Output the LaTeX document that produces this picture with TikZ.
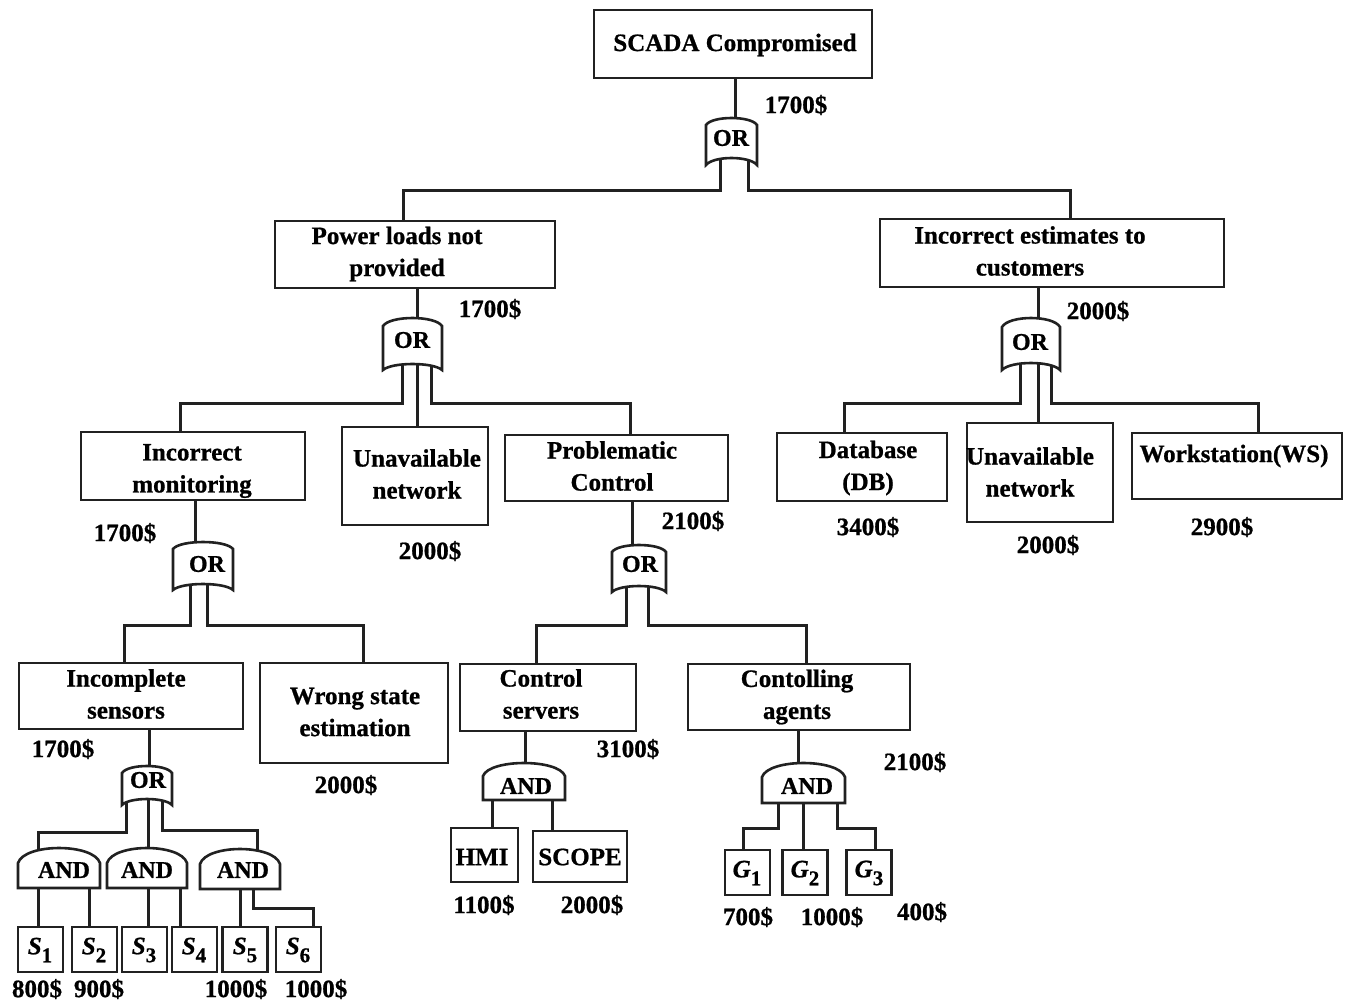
\documentclass[tikz,border=0pt]{standalone}
\usepackage{fontspec}
\setmainfont{Liberation Serif}[BoldFeatures={FakeBold=0.8},BoldItalicFeatures={FakeBold=0.8}]
\usetikzlibrary{calc}
\pgfdeclarelayer{back}
\pgfdeclarelayer{bg}
\pgfdeclarelayer{mid}
\pgfsetlayers{back,bg,mid,main}
\definecolor{linec}{gray}{0.13}
\tikzset{
  box/.style={draw=linec, line width=2.8pt, fill=white, inner sep=0pt},
  txt/.style={inner sep=0pt, align=center, font=\fontsize{25}{32}\selectfont\bfseries},
  gtxt/.style={inner sep=0pt, font=\fontsize{24}{28}\selectfont\bfseries},
  price/.style={inner sep=0pt, font=\fontsize{25}{30}\selectfont\bfseries},
  conn/.style={draw=linec, line width=3pt},
  gateshape/.style={draw=linec, line width=2.6pt, fill=white},
}
\newcommand{\orgate}[6]{%
  \path[gateshape] (#1,#4) -- (#1,#5)
    .. controls ({#1+0.15*(#2-#1)},{#5-1.333*(#5-#6)}) and ({#2-0.15*(#2-#1)},{#5-1.333*(#5-#6)}) .. (#2,#5)
    -- (#2,#4)
    .. controls ({#2-0.12*(#2-#1)},{#4-1.333*(#4-#3)}) and ({#1+0.12*(#2-#1)},{#4-1.333*(#4-#3)}) .. cycle;}
\newcommand{\andgate}[5]{%
  \path[gateshape] (#1,#5) -- (#1,#4)
    .. controls ({#1+0.08*(#2-#1)},{#4-1.333*(#4-#3)}) and ({#2-0.08*(#2-#1)},{#4-1.333*(#4-#3)}) .. (#2,#4)
    -- (#2,#5) -- cycle;}
\newcommand{\sub}[2]{\textit{#1}\raisebox{-8pt}{\fontsize{21}{21}\selectfont #2}}
\begin{document}
\begin{tikzpicture}[x=1pt,y=-1pt]
\begin{pgfonlayer}{back}
\fill[white] (0,0) rectangle (1346,1002);
\end{pgfonlayer}
\useasboundingbox (0,0) rectangle (1346,1002);

% ---------- boxes ----------
\node[box, minimum width=278pt, minimum height=68pt] (top)  at (733,44) {};
\node[box, minimum width=280pt, minimum height=67pt] (plnp) at (415,254.5) {};
\node[box, minimum width=344pt, minimum height=68pt] (ieec) at (1052,253) {};
\node[box, minimum width=224pt, minimum height=68pt] (im)   at (193,466) {};
\node[box, minimum width=146pt, minimum height=98pt] (un1)  at (415,476) {};
\node[box, minimum width=223pt, minimum height=66pt] (pc)   at (616.5,468) {};
\node[box, minimum width=170pt, minimum height=68pt] (db)   at (862,467) {};
\node[box, minimum width=146pt, minimum height=99pt] (un2)  at (1040,472.5) {};
\node[box, minimum width=210pt, minimum height=66pt] (ws)   at (1237,466) {};
\node[box, minimum width=224pt, minimum height=66pt] (is)   at (131,696) {};
\node[box, minimum width=188pt, minimum height=100pt] (wse) at (354,713) {};
\node[box, minimum width=176pt, minimum height=67pt] (cs)   at (548,697.5) {};
\node[box, minimum width=222pt, minimum height=66pt] (ca)   at (799,697) {};
\node[box, minimum width=67pt, minimum height=54pt] (hmi)   at (484.5,855) {};
\node[box, minimum width=94pt, minimum height=51pt] (scope) at (580,856.5) {};
\foreach \n/\x in {s1/40.5, s2/94.5, s3/144.5, s4/194.5, s5/245, s6/298.5}
  \node[box, minimum width=45pt, minimum height=45pt] (\n) at (\x,949.5) {};
\foreach \n/\x in {G1/747.5, G2/805, G3/869}
  \node[box, minimum width=45pt, minimum height=45pt] (\n) at (\x,872.5) {};

% ---------- box texts ----------
\node[txt] (ttop)  at (735,45)  {SCADA Compromised};
\node[txt] (tplnp) at (397,254) {Power loads not\\provided};
\node[txt] (tieec) at (1030,251) {Incorrect estimates to\\customers};
\node[txt] (tim)   at (192,471) {Incorrect\\monitoring};
\node[txt] (tun1)  at (417,474) {Unavailable\\network};
\node[txt] (tpc)   at (612,466) {Problematic\\Control};
\node[txt] (tdb)   at (868,468) {Database\\(DB)};
\node[txt] (tun2)  at (1030,472) {Unavailable\\network};
\node[txt] (tws)   at (1234,456) {Workstation(WS)};
\node[txt] (tis)   at (126,694) {Incomplete\\sensors};
\node[txt] (twse)  at (355,712) {Wrong state\\estimation};
\node[txt] (tcs)   at (541,694) {Control\\servers};
\node[txt] (tca)   at (797,697) {Contolling\\agents};
\node[txt] (thmi)  at (482,857) {HMI};
\node[txt] (tscope) at (580,857) {SCOPE};
\node[txt] (ts1) at (40,950) {\sub{S}{1}};
\node[txt] (ts2) at (94,950) {\sub{S}{2}};
\node[txt] (ts3) at (144,950) {\sub{S}{3}};
\node[txt] (ts4) at (194,950) {\sub{S}{4}};
\node[txt] (ts5) at (245,950) {\sub{S}{5}};
\node[txt] (ts6) at (298,950) {\sub{S}{6}};
\node[txt] (tg1) at (747,873) {\sub{G}{1}};
\node[txt] (tg2) at (805,873) {\sub{G}{2}};
\node[txt] (tg3) at (869,873) {\sub{G}{3}};

% ---------- gate labels ----------
\node[gtxt] (g1) at (731,138) {OR};
\node[gtxt] (g2) at (412,340) {OR};
\node[gtxt] (g3) at (207,564) {OR};
\node[gtxt] (g4) at (640,564) {OR};
\node[gtxt] (g5) at (148,780) {OR};
\node[gtxt] (g6) at (1030,342) {OR};
\node[gtxt] (a1) at (64,870) {AND};
\node[gtxt] (a2) at (147,870) {AND};
\node[gtxt] (a3) at (243,870) {AND};
\node[gtxt] (acs) at (526,786) {AND};
\node[gtxt] (aca) at (807,786) {AND};

% ---------- prices ----------
\node[price] (p1)  at (796,105) {1700\$};
\node[price] (p2)  at (490,309) {1700\$};
\node[price] (p3)  at (1098,311) {2000\$};
\node[price] (p4)  at (125,533) {1700\$};
\node[price] (p5)  at (430,551) {2000\$};
\node[price] (p6)  at (693,521) {2100\$};
\node[price] (p7)  at (868,527) {3400\$};
\node[price] (p8)  at (1048,545) {2000\$};
\node[price] (p9)  at (1222,527) {2900\$};
\node[price] (p10) at (63,749) {1700\$};
\node[price] (p11) at (346,785) {2000\$};
\node[price] (p12) at (628,749) {3100\$};
\node[price] (p13) at (915,762) {2100\$};
\node[price] (p14) at (484,905) {1100\$};
\node[price] (p15) at (592,905) {2000\$};
\node[price] (p16) at (748,917) {700\$};
\node[price] (p17) at (832,917) {1000\$};
\node[price] (p18) at (922,912) {400\$};
\node[price] (p19) at (37,989) {800\$};
\node[price] (p20) at (99,989) {900\$};
\node[price] (p21) at (236,989) {1000\$};
\node[price] (p22) at (316,989) {1000\$};

% ---------- gate outlines ----------
\begin{pgfonlayer}{mid}
\orgate{706}{757}{118}{125}{165}{158}
\orgate{383}{442}{318}{326}{370}{364}
\orgate{173}{233}{542}{549}{590}{584}
\orgate{612}{666}{545}{552}{592}{586}
\orgate{122}{172}{766}{773}{805}{799}
\orgate{1002}{1060}{318}{327}{370}{363}
\andgate{18}{100}{848}{863}{888}
\andgate{107}{187}{848}{863}{888}
\andgate{200}{280}{849}{864}{889}
\andgate{483}{565}{763}{776}{800}
\andgate{762}{845}{763}{777}{803}
\end{pgfonlayer}

% ---------- connectors ----------
\begin{pgfonlayer}{bg}
\draw[conn] ($(top.south)+(2,0)$) -- ++(0,50);
\draw[conn] ($(g1)+(-11,10)$) -- ++(0,42) -| ($(plnp.north)+(-12,0)$);
\draw[conn] ($(g1)+(17,10)$) -- ++(0,42) -| ($(ieec.north)+(18,0)$);

\draw[conn] ($(plnp.south)+(2,0)$) -- ($(un1.north)+(2,0)$);
\draw[conn] ($(g2)+(-10,10)$) -- ++(0,53) -| ($(im.north)+(-13,0)$);
\draw[conn] ($(g2)+(19,10)$) -- ++(0,53) -| ($(pc.north)+(13.5,0)$);

\draw[conn] ($(ieec.south)+(-14,0)$) -- ($(un2.north)+(-2,0)$);
\draw[conn] ($(g6)+(-10,10)$) -- ++(0,51) -| ($(db.north)+(-18,0)$);
\draw[conn] ($(g6)+(21,10)$) -- ++(0,51) -| ($(ws.north)+(21,0)$);

\draw[conn] ($(im.south)+(2,0)$) -- ++(0,50);
\draw[conn] ($(g3)+(-17,10)$) -- ++(0,51) -| ($(is.north)+(-7,0)$);
\draw[conn] ($(g3)+(0,10)$) -- ++(0,51) -| ($(wse.north)+(9,0)$);

\draw[conn] ($(pc.south)+(15.5,0)$) -- ++(0,50);
\draw[conn] ($(g4)+(-14,10)$) -- ++(0,51) -| ($(cs.north)+(-12,0)$);
\draw[conn] ($(g4)+(8,10)$) -- ++(0,51) -| ($(ca.north)+(7,0)$);

\draw[conn] ($(is.south)+(18,0)$) -- ++(0,45);
\draw[conn] ($(g5)+(-22,10)$) -- ++(0,42) -| ($(a1)+(-26,-8)$);
\draw[conn] ($(g5)+(0,10)$) -- ++(0,70);
\draw[conn] ($(g5)+(14,10)$) -- ++(0,40) -| ($(a3)+(14,-8)$);

\draw[conn] ($(s1.north)+(-2,0)$) -- ++(0,-50);
\draw[conn] ($(s2.north)+(-5.5,0)$) -- ++(0,-50);
\draw[conn] ($(s3.north)+(3.5,0)$) -- ++(0,-50);
\draw[conn] ($(s4.north)+(-14.5,0)$) -- ++(0,-50);
\draw[conn] ($(s5.north)+(-5,0)$) -- ++(0,-50);
\draw[conn] ($(a3)+(10,8)$) -- ++(0,30) -| ($(s6.north)+(14.5,0)$);

\draw[conn] ($(cs.south)+(-23,0)$) -- ++(0,45);
\draw[conn] ($(hmi.north)+(7.5,0)$) -- ++(0,-45);
\draw[conn] ($(scope.north)+(-28,0)$) -- ++(0,-48);

\draw[conn] ($(ca.south)+(-1,0)$) -- ++(0,45);
\draw[conn] ($(aca)+(-29,8)$) -- ++(0,34) -| ($(G1.north)+(-4.5,0)$);
\draw[conn] ($(G2.north)+(-2,0)$) -- ++(0,-55);
\draw[conn] ($(aca)+(30,8)$) -- ++(0,34) -| ($(G3.north)+(6,0)$);
\end{pgfonlayer}
\end{tikzpicture}
\end{document}
